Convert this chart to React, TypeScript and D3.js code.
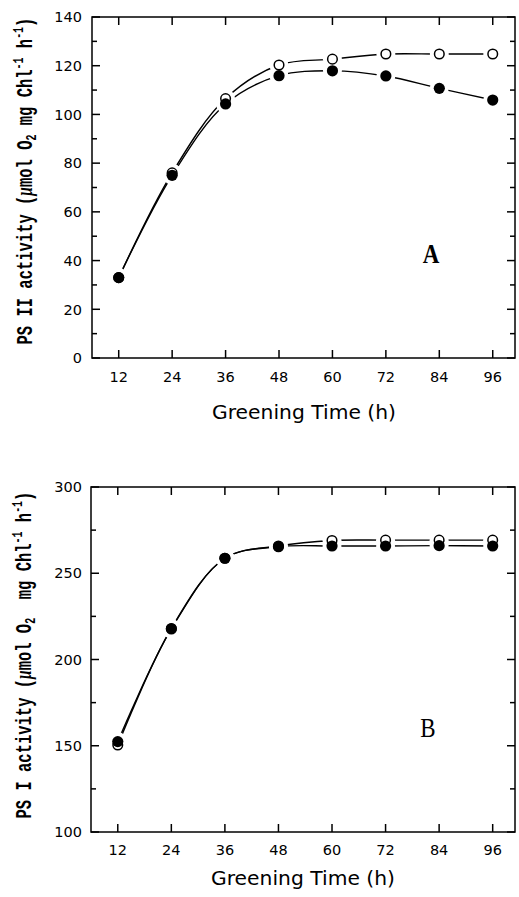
import React from "react";
import * as d3 from "d3";

const hours = [12, 24, 36, 48, 60, 72, 84, 96];
const psIIOpen = [33, 76, 106.5, 120.3, 122.7, 124.8, 124.8, 124.8];
const psIIFilled = [33, 75, 104.3, 115.9, 117.9, 115.8, 110.7, 105.9];
const psIOpen = [150.4, 218, 258.7, 265.8, 269, 269.2, 269.2, 269.2];
const psIFilled = [152.4, 217.7, 258.7, 265.4, 265.8, 265.8, 266, 265.8];
const psIIYMajor = [0, 20, 40, 60, 80, 100, 120, 140];
const psIIYMinor = [10, 30, 50, 70, 90, 110, 130];
const psIYMajor = [100, 150, 200, 250, 300];
const psIYMinor = [125, 175, 225, 275];
const xTitle = "Greening Time (h)";

type PanelProps = {
  left: number; right: number; top: number; bottom: number;
  yDomain: [number, number];
  yMajor: number[]; yMinor: number[];
  openVals: number[]; filledVals: number[];
  letter: string; letterX: number; letterY: number; letterBold: boolean;
  tickBaseline: number; titleBaseline: number; titleX: number;
  labelX: number; labelCY: number; psName: string; gap: string;
};

function Panel(p: PanelProps) {
  const x = d3.scaleLinear().domain([6, 101]).range([p.left, p.right]);
  const y = d3.scaleLinear().domain(p.yDomain).range([p.bottom, p.top]);
  const line = d3.line<number>()
    .x((_, i) => x(hours[i]))
    .y((d) => y(d))
    .curve(d3.curveCatmullRom.alpha(0.5));
  const sw = 1.5;
  return (
    <g>
      <rect x={p.left} y={p.top} width={p.right - p.left} height={p.bottom - p.top}
        fill="none" stroke="#000" strokeWidth={sw} />
      {p.yMajor.map((v) => (
        <g key={"ym" + v}>
          <line x1={p.left} x2={p.left + 8} y1={y(v)} y2={y(v)} stroke="#000" strokeWidth={1.5} />
          <line x1={p.right} x2={p.right - 8} y1={y(v)} y2={y(v)} stroke="#000" strokeWidth={1.5} />
          <text x={82} y={y(v)} dy="0.36em" textAnchor="end" fontFamily="DejaVu Sans" fontSize={14.5}>{v}</text>
        </g>
      ))}
      {p.yMinor.map((v) => (
        <g key={"yn" + v}>
          <line x1={p.left} x2={p.left + 5} y1={y(v)} y2={y(v)} stroke="#000" strokeWidth={1.5} />
          <line x1={p.right} x2={p.right - 5} y1={y(v)} y2={y(v)} stroke="#000" strokeWidth={1.5} />
        </g>
      ))}
      {hours.map((h) => (
        <g key={"x" + h}>
          <line x1={x(h)} x2={x(h)} y1={p.bottom} y2={p.bottom - 8} stroke="#000" strokeWidth={1.5} />
          <line x1={x(h)} x2={x(h)} y1={p.top} y2={p.top + 8} stroke="#000" strokeWidth={1.5} />
          <text x={x(h)} y={p.tickBaseline} textAnchor="middle" fontFamily="DejaVu Sans" fontSize={14.5}>{h}</text>
        </g>
      ))}
      <path d={line(p.openVals) || ""} fill="none" stroke="#000" strokeWidth={1.4} />
      <path d={line(p.filledVals) || ""} fill="none" stroke="#000" strokeWidth={1.4} />
      {hours.map((h, i) => (
        <g key={"halo" + h}>
          <circle cx={x(h)} cy={y(p.openVals[i])} r={9.5} fill="#fff" />
          <circle cx={x(h)} cy={y(p.filledVals[i])} r={9.5} fill="#fff" />
        </g>
      ))}
      {hours.map((h, i) => (
        <circle key={"o" + h} cx={x(h)} cy={y(p.openVals[i])} r={4.8} fill="#fff" stroke="#000" strokeWidth={1.5} />
      ))}
      {hours.map((h, i) => (
        <circle key={"f" + h} cx={x(h)} cy={y(p.filledVals[i])} r={5.6} fill="#000" />
      ))}
      <text x={p.letterX} y={p.letterY} textAnchor="middle" fontFamily="Liberation Serif"
        fontWeight={p.letterBold ? "bold" : "normal"} fontSize={28}
        transform={`translate(${p.letterX},${p.letterY}) scale(0.82,1) translate(${-p.letterX},${-p.letterY})`}>{p.letter}</text>
      <text x={p.titleX} y={p.titleBaseline} textAnchor="middle" fontFamily="DejaVu Sans" fontSize={20}
        textLength={184} lengthAdjust="spacingAndGlyphs">{xTitle}</text>
      <text transform={`translate(${p.labelX},${p.labelCY}) rotate(-90) scale(1,1.45)`}
        textAnchor="middle" fontFamily="Liberation Mono" fontWeight="bold" fontSize={15.5}
        xmlSpace="preserve" style={{ whiteSpace: "pre" }}>
        {p.psName + " activity ("}
        <tspan fontStyle="italic" fontFamily="Liberation Serif">{"μ"}</tspan>
        {"mol O"}
        <tspan dy={3} fontSize={10}>{"2"}</tspan>
        <tspan dy={-3}>{p.gap + "mg Chl"}</tspan>
        <tspan dy={-6} fontSize={10}>{"-1"}</tspan>
        <tspan dy={6}>{" h"}</tspan>
        <tspan dy={-6} fontSize={10}>{"-1"}</tspan>
        <tspan dy={6}>{")"}</tspan>
      </text>
    </g>
  );
}

export default function App() {
  return (
    <div style={{ position: "absolute", left: 0, top: 0 }}>
      <svg width={519} height={897} viewBox="0 0 519 897" style={{ display: "block", background: "#fff" }}>
        <rect x={0} y={0} width={519} height={897} fill="#fff" />
        <Panel left={92} right={515} top={17} bottom={358} yDomain={[0, 140]}
          yMajor={psIIYMajor} yMinor={psIIYMinor} openVals={psIIOpen} filledVals={psIIFilled}
          letter="A" letterX={431} letterY={263} letterBold={true}
          tickBaseline={382} titleBaseline={419} titleX={304}
          labelX={32} labelCY={181} psName="PS II" gap=" " />
        <Panel left={91} right={515} top={487} bottom={832} yDomain={[100, 300]}
          yMajor={psIYMajor} yMinor={psIYMinor} openVals={psIOpen} filledVals={psIFilled}
          letter="B" letterX={428} letterY={737} letterBold={false}
          tickBaseline={855} titleBaseline={885} titleX={303}
          labelX={31} labelCY={655} psName="PS I" gap="  " />
      </svg>
    </div>
  );
}
